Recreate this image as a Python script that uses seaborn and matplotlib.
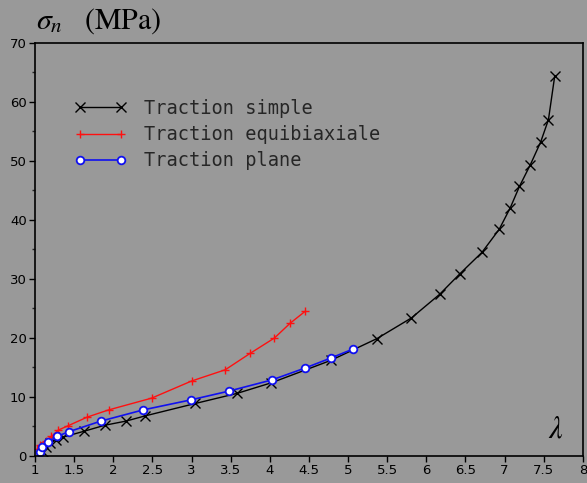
import numpy as np
import pandas as pd
import matplotlib
matplotlib.use("Agg")
import matplotlib.pyplot as plt
import seaborn as sns

# Traction simple
lam_simple = [1.10, 1.14, 1.19, 1.27, 1.36, 1.63, 1.89, 2.16, 2.41, 3.05, 3.58, 4.02,
              4.78, 5.37, 5.81, 6.17, 6.43, 6.71, 6.93, 7.07, 7.19, 7.33, 7.46, 7.56, 7.64]
sig_simple = [0.7, 1.5, 2.2, 2.7, 3.2, 4.2, 5.2, 5.9, 6.8, 8.9, 10.6, 12.4,
              16.2, 19.9, 23.4, 27.4, 30.9, 34.5, 38.4, 42.0, 45.7, 49.4, 53.2, 57.0, 64.4]

# Traction equibiaxiale
lam_equi = [1.03, 1.06, 1.14, 1.21, 1.30, 1.42, 1.67, 1.94, 2.49, 3.00, 3.43, 3.75, 4.06, 4.26, 4.45]
sig_equi = [1.2, 1.9, 2.6, 3.3, 4.4, 5.1, 6.6, 7.8, 9.8, 12.7, 14.6, 17.4, 20.0, 22.5, 24.5]

# Traction plane
lam_plane = [1.06, 1.09, 1.17, 1.28, 1.43, 1.84, 2.38, 2.99, 3.48, 4.03, 4.45, 4.78, 5.06]
sig_plane = [0.6, 1.6, 2.4, 3.3, 4.1, 5.9, 7.8, 9.5, 11.0, 12.9, 14.9, 16.6, 18.1]

xtick_labels = ["1", "1.5", "2", "2.5", "3", "3.5", "4", "4.5", "5", "5.5",
                "6", "6.5", "7", "7.5", "8"]

sns.set_theme(style="white")
plt.rcParams.update({
    "font.family": ["DejaVu Sans"],
    "mathtext.fontset": "stix",
    "figure.facecolor": "#999999",
    "axes.facecolor": "#999999",
    "axes.edgecolor": "black",
})

fig = plt.figure(figsize=(5.87, 4.83), dpi=100)
ax = fig.add_axes([0.0596, 0.056, 0.9334, 0.855])

df_s = pd.DataFrame({"lam": lam_simple, "sig": sig_simple})
df_e = pd.DataFrame({"lam": lam_equi, "sig": sig_equi})
df_p = pd.DataFrame({"lam": lam_plane, "sig": sig_plane})

sns.lineplot(data=df_s, x="lam", y="sig", ax=ax, sort=False, estimator=None,
             color="black", lw=1.0, marker="x", markersize=7, markeredgewidth=1.0,
             markeredgecolor="black", label="Traction simple")
sns.lineplot(data=df_e, x="lam", y="sig", ax=ax, sort=False, estimator=None,
             color="#ff1010", lw=1.0, marker="+", markersize=6, markeredgewidth=1.0,
             markeredgecolor="#ff1010", label="Traction equibiaxiale")
sns.lineplot(data=df_p, x="lam", y="sig", ax=ax, sort=False, estimator=None,
             color="#1010f0", lw=1.2, marker="o", markersize=5.5, markerfacecolor="white",
             markeredgecolor="#1010f0", markeredgewidth=1.3, label="Traction plane")

ax.set_xlim(1, 8)
ax.set_ylim(0, 70)
ax.set_xticks(np.arange(1, 8.01, 0.5))
ax.set_xticklabels(xtick_labels)
ax.set_yticks(np.arange(0, 71, 10))
ax.set_yticks(np.arange(5, 70, 10), minor=True)
ax.tick_params(axis="both", which="major", direction="out", length=4, width=1,
               labelsize=9.5, colors="black", bottom=True, left=True, pad=2)
ax.tick_params(axis="y", which="minor", direction="out", length=2.5, width=1, left=True)
ax.set_xlabel("")
ax.set_ylabel("")
for s in ax.spines.values():
    s.set_linewidth(1.2)
    s.set_color("black")

ax.legend(loc="upper left", bbox_to_anchor=(0.042, 0.905), frameon=False,
          numpoints=2, handlelength=2.8, handletextpad=0.9, labelspacing=0.38,
          prop={"family": "DejaVu Sans Mono", "size": 13.4})

fig.text(0.062, 0.94, r"$\sigma_n\ \ \ \mathrm{(MPa)}$", fontsize=21.5, color="black",
         ha="left", va="baseline")
ax.text(0.951, 0.03, r"$\lambda$", transform=ax.transAxes, fontsize=22,
        ha="center", va="bottom", color="black")

fig.savefig("out.png", dpi=100, facecolor=fig.get_facecolor())
